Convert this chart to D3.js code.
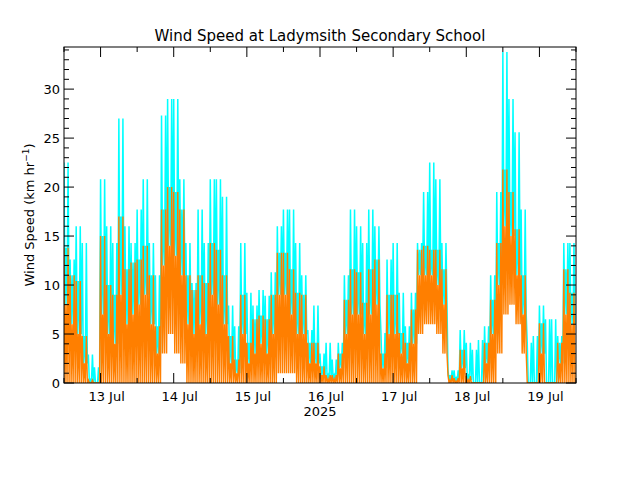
<!DOCTYPE html>
<html>
<head>
<meta charset="utf-8">
<script src="https://cdn.jsdelivr.net/npm/d3@7"></script>
<style>
  body { margin: 0; background: #fff; }
  text { font-family: "DejaVu Sans", sans-serif; }
</style>
</head>
<body>
<svg id="chart" width="640" height="480"></svg>
<script>
// Two-hour bins starting 12 Jul 2025 12:00 (km/hr)
const binStart = new Date(2025, 6, 12, 12);
const gustHi = [22.5, 12.6, 16, 14.3, 2.9, 1.6, 20.8, 16, 14.3, 27, 16, 14.3, 17.7, 20.8, 14.3, 11,
  27.3, 29, 29, 20.8, 14.3, 10.2, 17.7, 14.3, 20.8, 20.8, 19, 7.9, 5.8, 14.3, 9.2, 7.9,
  9.5, 8.9, 11.3, 16, 17.7, 17.7, 14.3, 11, 5.4, 7.9, 3, 4.1, 2.4, 4.1, 11, 17.7,
  16, 14.3, 17.7, 16, 5.1, 12.6, 14.3, 9.2, 5.8, 9.2, 14.3, 19.5, 22.5, 20.8, 14.3, 1.3,
  1.3, 5.4, 4.1, 3.4, 4.4, 5.8, 11, 19.5, 33.8, 29, 25.6, 17.7, 4.1, 4.8, 7.9, 6.5,
  6.5, 4.8, 14.3, 14.3];
const speedHi = [13.8, 11, 10.4, 4.8, 0.3, 0, 15, 10, 9, 17, 11.6, 12.3, 12.6, 14, 11, 5.8,
  17.7, 20, 19.5, 17.7, 11, 9.5, 11, 10.2, 14.3, 13.6, 11, 4.8, 2.4, 9, 4.1, 6.5,
  6.9, 6.5, 9, 13.3, 13.3, 11.6, 9.2, 9, 4.1, 4.1, 1.7, 0.8, 0.8, 3, 8.5, 11.6,
  11.3, 8.2, 11.6, 12.6, 3, 9, 9, 5.1, 4.1, 7.5, 13.6, 14, 13.6, 13.6, 11.6, 0.8,
  0.5, 3.4, 0.7, 0, 0, 4.1, 8.5, 14.3, 21.8, 19.5, 15.7, 11, 0, 0, 6.1, 0,
  0, 4.1, 11.6, 9.2];
// bulk level of the orange trace in each bin
const speedMid = [8, 6, 5, 2, 0, 0, 7, 5, 4, 9, 6, 7, 8, 9, 6, 3,
  12, 14, 13, 11, 6, 5, 6, 5, 9, 8, 6, 2, 1, 5, 2, 3,
  4, 3, 5, 9, 9, 7, 5, 5, 2, 2, 0.8, 0.4, 0.4, 1.5, 5, 7,
  7, 5, 7, 8, 1.5, 5, 5, 3, 2, 4, 11, 11, 11, 10, 8, 0.3,
  0.2, 1.5, 0.3, 0, 0, 2, 5, 10, 16, 15, 11, 7, 0, 0, 3, 0,
  0, 2, 7, 6];
const speedLo = [0, 0, 0, 0, 0, 0, 0, 0, 0, 0, 0, 0, 0, 0, 0, 0,
  3, 5, 3, 2, 0, 0, 0, 0, 0, 0, 0, 0, 0, 0, 0, 0,
  0, 0, 0, 1, 1, 1, 0, 0, 0, 0, 0, 0, 0, 0, 0, 0,
  0, 0, 0, 0, 0, 0, 0, 0, 0, 0, 5, 6, 6, 5, 3, 0,
  0, 0, 0, 0, 0, 0, 0, 3, 7, 8, 6, 3, 0, 0, 0, 0,
  0, 0, 0, 0];
const dayTicks = ["13 Jul", "14 Jul", "15 Jul", "16 Jul", "17 Jul", "18 Jul", "19 Jul"];

const svg = d3.select("#chart");
const m = { left: 64, right: 576, top: 47, bottom: 383 };
const x = d3.scaleTime()
  .domain([binStart, d3.timeHour.offset(binStart, 168)])
  .range([m.left, m.right]);
const y = d3.scaleLinear().domain([0, 34.3]).range([m.bottom, m.top]);

// three spikes per bin (peaks given), dropping to the bin low in between
function spikes(peaks, lo) {
  const pts = [];
  peaks[0].forEach((_, i) => {
    const t0 = d3.timeHour.offset(binStart, i * 2);
    peaks.forEach((arr, k) => {
      pts.push([d3.timeMinute.offset(t0, k * 40), arr[i]]);
      pts.push([d3.timeMinute.offset(t0, k * 40 + 20), lo[i]]);
    });
  });
  return pts;
}

const line = d3.line().x(d => x(d[0])).y(d => y(d[1]));
svg.append("clipPath").attr("id", "c").append("rect")
  .attr("x", m.left).attr("y", m.top).attr("width", m.right - m.left).attr("height", m.bottom - m.top);
const g = svg.append("g").attr("clip-path", "url(#c)");

g.append("path").attr("d", line(spikes([gustHi, speedHi, gustHi], speedMid)))
  .attr("fill", "none").attr("stroke", "#00ffff").attr("stroke-width", 1.5);
g.append("path").attr("d", line(spikes([speedHi, speedMid, speedHi], speedLo)))
  .attr("fill", "none").attr("stroke", "#ff7f00").attr("stroke-width", 1.4);

// frame
svg.append("rect").attr("x", m.left).attr("y", m.top)
  .attr("width", m.right - m.left).attr("height", m.bottom - m.top)
  .attr("fill", "none").attr("stroke", "#000");

// y ticks (inward, both sides)
d3.range(0, 35, 1).forEach(v => {
  const len = v % 5 === 0 ? 10 : 5;
  svg.append("line").attr("x1", m.left).attr("x2", m.left + len).attr("y1", y(v)).attr("y2", y(v)).attr("stroke", "#000");
  svg.append("line").attr("x1", m.right).attr("x2", m.right - len).attr("y1", y(v)).attr("y2", y(v)).attr("stroke", "#000");
});
svg.selectAll(".ylab").data(d3.range(0, 31, 5)).join("text")
  .attr("x", m.left - 4).attr("y", d => y(d) + 5)
  .attr("text-anchor", "end").attr("font-size", 13).text(d => d);

// x ticks: days major, 12h minor
const days = dayTicks.map((_, i) => d3.timeDay.offset(new Date(2025, 6, 13), i));
d3.timeHour.every(12).range(binStart, d3.timeHour.offset(binStart, 169)).forEach(t => {
  const len = t.getHours() === 0 ? 10 : 5;
  svg.append("line").attr("x1", x(t)).attr("x2", x(t)).attr("y1", m.bottom).attr("y2", m.bottom - len).attr("stroke", "#000");
  svg.append("line").attr("x1", x(t)).attr("x2", x(t)).attr("y1", m.top).attr("y2", m.top + len).attr("stroke", "#000");
});
svg.selectAll(".xlab").data(days).join("text")
  .attr("x", d => x(d) + 6).attr("y", 401)
  .attr("text-anchor", "middle").attr("font-size", 13)
  .text((d, i) => dayTicks[i]);
svg.append("text").attr("x", 320).attr("y", 416).attr("text-anchor", "middle")
  .attr("font-size", 13).text("2025");

svg.append("text").attr("x", 320).attr("y", 41).attr("text-anchor", "middle")
  .attr("font-size", 15).text("Wind Speed at Ladymsith Secondary School");

const yl = svg.append("text").attr("transform", "translate(34,215) rotate(-90)")
  .attr("text-anchor", "middle").attr("font-size", 13);
yl.append("tspan").text("Wind Speed (km hr");
yl.append("tspan").attr("dy", -5).attr("font-size", 9).text("−1");
yl.append("tspan").attr("dy", 5).text(")");
</script>
</body>
</html>
